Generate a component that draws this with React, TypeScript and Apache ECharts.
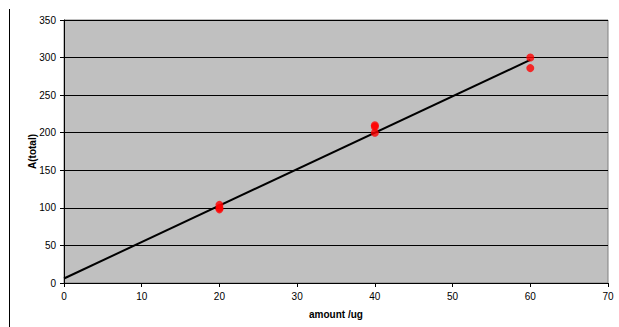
import React, { useEffect, useRef } from "react";
import * as echarts from "echarts";

const amounts = [20, 20, 20, 40, 40, 40, 60, 60];
const totals = [98, 100, 104, 200, 208, 210, 286, 300];
const trendX = [0, 60];
const trendY = [6, 297];

export default function App() {
  const ref = useRef<HTMLDivElement>(null);
  useEffect(() => {
    const chart = echarts.init(ref.current!, null, { renderer: "svg" });
    const font = { fontFamily: "Liberation Sans, Arial", fontSize: 10, color: "#000" };
    chart.setOption({
      animation: false,
      backgroundColor: "#fff",
      grid: {
        left: 64,
        right: 11,
        top: 20,
        bottom: 44,
        show: true,
        backgroundColor: "#C0C0C0",
        borderColor: "#808080",
        borderWidth: 1,
      },
      xAxis: {
        type: "value",
        min: 0,
        max: 70,
        interval: 10,
        name: "amount /ug",
        nameLocation: "middle",
        nameGap: 26,
        nameTextStyle: { ...font, fontWeight: "bold" },
        axisLine: { show: true, lineStyle: { color: "#000", width: 1 } },
        axisTick: { show: true, length: 4, lineStyle: { color: "#000" } },
        axisLabel: { ...font, margin: 8 },
        splitLine: { show: false },
      },
      yAxis: {
        type: "value",
        min: 0,
        max: 350,
        interval: 50,
        name: "A(total)",
        nameLocation: "middle",
        nameGap: 27,
        nameMoveOverlap: false,
        nameRotate: 90,
        nameTextStyle: { ...font, fontWeight: "bold" },
        axisLine: { show: true, lineStyle: { color: "#000", width: 1 } },
        axisTick: { show: true, length: 4, lineStyle: { color: "#000" } },
        axisLabel: { ...font, margin: 8 },
        splitLine: { show: true, lineStyle: { color: "#000", width: 1 } },
      },
      graphic: [
        {
          type: "line",
          shape: { x1: 9.5, y1: 9, x2: 9.5, y2: 327 },
          style: { stroke: "#000", lineWidth: 1 },
        },
      ],
      series: [
        {
          type: "line",
          data: trendX.map((x, i) => [x, trendY[i]]),
          showSymbol: false,
          lineStyle: { color: "#000", width: 2 },
          z: 2,
        },
        {
          type: "scatter",
          data: amounts.map((x, i) => [x, totals[i]]),
          symbol: "circle",
          symbolSize: 8,
          itemStyle: { color: "#FF0000" },
          z: 3,
        },
      ],
    });
    return () => chart.dispose();
  }, []);
  return <div ref={ref} style={{ width: 619, height: 327, position: "absolute", left: 0, top: 0 }} />;
}
